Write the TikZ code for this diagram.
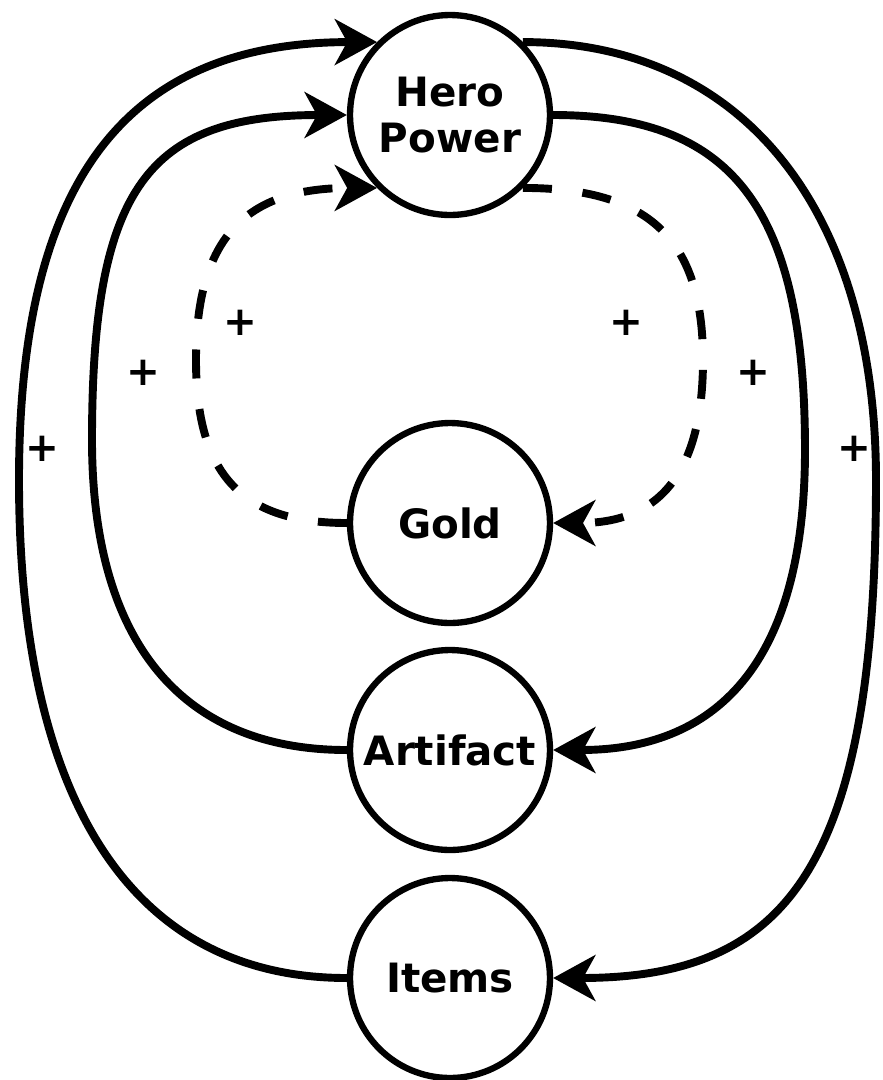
\documentclass[tikz,border=0pt]{standalone}
\usepackage{fontspec}
\setmainfont{DejaVu Sans}
\usetikzlibrary{arrows.meta}
\begin{document}
\begin{tikzpicture}[x=0.02cm, y=-0.02cm,
  stock/.style={circle, draw, line width=3.6pt, minimum size=4cm, inner sep=0pt,
    font=\fontsize{23}{26.5}\selectfont\bfseries, align=center},
  link/.style={line width=4.5pt, -{Stealth[length=24pt, width=26pt, inset=7pt]}},
  dashlink/.style={link, dash pattern=on 16.5pt off 17.5pt},
  sign/.style={font=\fontsize{23}{26.5}\selectfont\bfseries, inner sep=0pt}]
\useasboundingbox (0,0) rectangle (883,1080);

% stocks
\node[stock] (hero) at (450,115) {Hero\\Power};
\node[stock] (gold) at (450,523) {Gold};
\node[stock] (artifact) at (450,750) {Artifact};
\node[stock] (items) at (450,978) {Items};

% outer loop: items <-> hero power
\draw[link] (items.west) .. controls +(-213,0) and +(0,324) .. (19,480)
  .. controls +(0,-304) and +(-248,0) .. (hero.135);
\draw[link] (hero.45) .. controls +(220,0) and +(0,-270) .. (876,480)
  .. controls +(0,388) and +(234,0) .. (items.east);

% middle loop: artifact <-> hero power
\draw[link] (artifact.west) .. controls +(-166,0) and +(0,201) .. (92,440)
  .. controls +(0,-252) and +(-199,0) .. (hero.west);
\draw[link] (hero.east) .. controls +(181,0) and +(0,-240) .. (805,450)
  .. controls +(0,204) and +(171,0) .. (artifact.east);

% inner loop: gold <-> hero power
\draw[dashlink] (gold.west) .. controls +(-106,0) and +(0,114) .. (196,360)
  .. controls +(0,-124) and +(-130,0) .. (hero.225);
\draw[dashlink] (hero.-45) .. controls +(126,0) and +(0,-121) .. (703,360)
  .. controls +(0,114) and +(105,0) .. (gold.east);

% polarities
\node[sign] (p1) at (42,449) {+};
\node[sign] (p2) at (143,373) {+};
\node[sign] (p3) at (240,323) {+};
\node[sign] (p4) at (626,323) {+};
\node[sign] (p5) at (753,373) {+};
\node[sign] (p6) at (854,449) {+};
\end{tikzpicture}
\end{document}
